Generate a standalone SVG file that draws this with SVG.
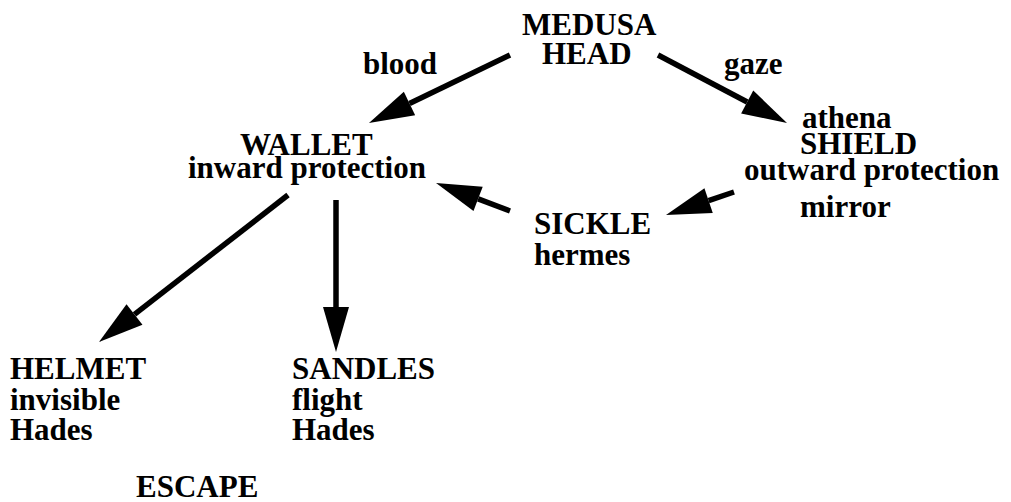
<svg xmlns="http://www.w3.org/2000/svg" width="1011" height="502" viewBox="0 0 1011 502">
<style>
text{font-family:"Liberation Serif","Times New Roman",serif;font-weight:bold;font-size:31px;fill:#000}
.c{stroke:#000;stroke-width:5.5;fill:none;marker-end:url(#ah)}
</style>
<defs>
<marker id="ah" markerUnits="userSpaceOnUse" markerWidth="46" markerHeight="26" refX="0" refY="13" orient="auto" overflow="visible">
<path d="M0,0 L45,13 L0,26 Z" fill="#000"/>
</marker>
</defs>
<rect width="1011" height="502" fill="#fff"/>
<g id="connectors">
<line class="c" x1="510" y1="55" x2="409.5" y2="103.5"/>
<line class="c" x1="658" y1="55" x2="747.2" y2="102"/>
<line class="c" x1="734" y1="192" x2="708.6" y2="200.6"/>
<line class="c" x1="510" y1="211" x2="478.1" y2="198.9"/>
<line class="c" x1="288" y1="195" x2="134.5" y2="314.4"/>
<line class="c" x1="336" y1="200" x2="336" y2="307"/>
</g>
<g id="labels">
<text x="363" y="74">blood</text>
<text x="724" y="74">gaze</text>
</g>
<g id="medusa"><text x="522" y="35">MEDUSA</text><text x="542" y="64">HEAD</text></g>
<g id="wallet"><text x="240" y="155">WALLET</text><text x="188" y="178">inward protection</text></g>
<g id="shield"><text x="802" y="128">athena</text><text x="800" y="154">SHIELD</text><text x="744" y="180">outward protection</text><text x="800" y="217">mirror</text></g>
<g id="sickle"><text x="534" y="234">SICKLE</text><text x="534" y="265">hermes</text></g>
<g id="helmet"><text x="10" y="379">HELMET</text><text x="10" y="410">invisible</text><text x="10" y="440">Hades</text></g>
<g id="sandles"><text x="292" y="379">SANDLES</text><text x="292" y="410">flight</text><text x="292" y="440">Hades</text></g>
<g id="escape"><text x="136" y="497">ESCAPE</text></g>
</svg>
